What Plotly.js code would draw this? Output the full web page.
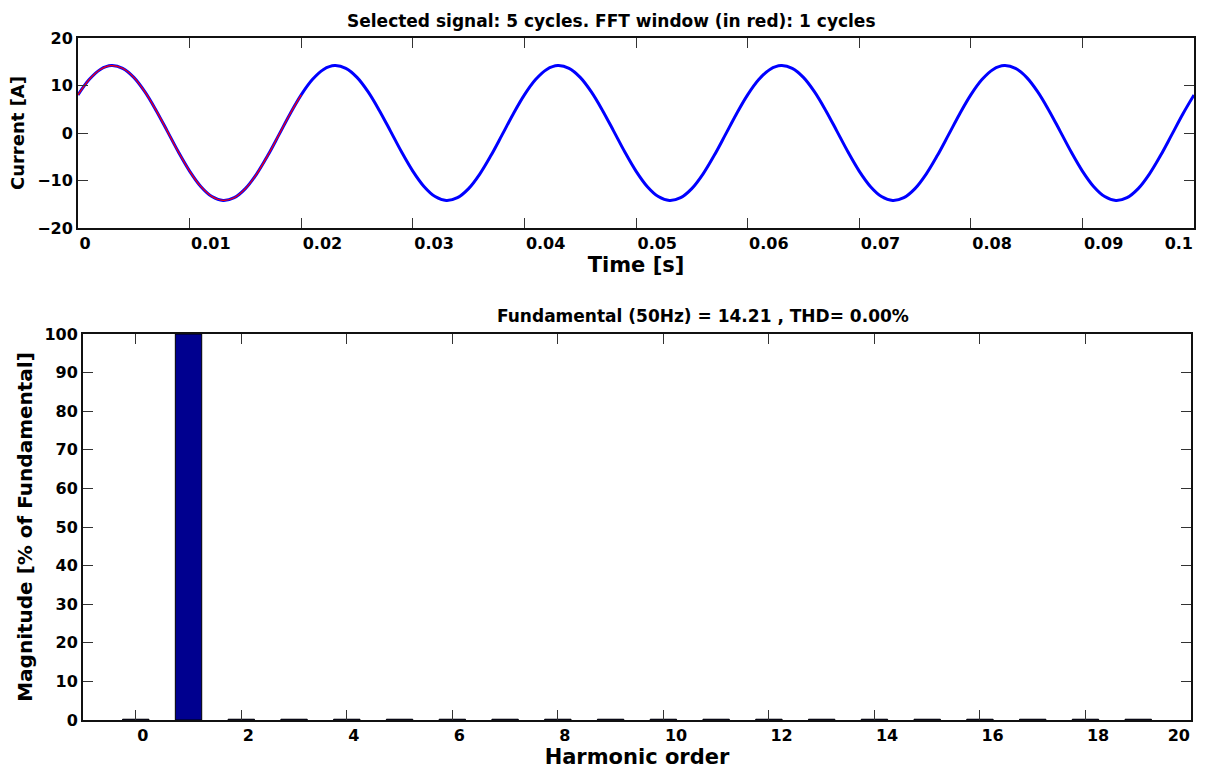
<!DOCTYPE html>
<html>
<head>
<meta charset="utf-8">
<script src="https://cdn.plot.ly/plotly-3.0.1.min.js"></script>
<style>
  html, body { margin: 0; padding: 0; background: #fff; }
  #chart { width: 1214px; height: 771px; }
</style>
</head>
<body>
<div id="chart"></div>
<script>
// ---- Data ----
const timeS = [
  0.000,0.001,0.002,0.003,0.004,0.005,0.006,0.007,0.008,0.009,
  0.010,0.011,0.012,0.013,0.014,0.015,0.016,0.017,0.018,0.019,
  0.020,0.021,0.022,0.023,0.024,0.025,0.026,0.027,0.028,0.029,
  0.030,0.031,0.032,0.033,0.034,0.035,0.036,0.037,0.038,0.039,
  0.040,0.041,0.042,0.043,0.044,0.045,0.046,0.047,0.048,0.049,
  0.050,0.051,0.052,0.053,0.054,0.055,0.056,0.057,0.058,0.059,
  0.060,0.061,0.062,0.063,0.064,0.065,0.066,0.067,0.068,0.069,
  0.070,0.071,0.072,0.073,0.074,0.075,0.076,0.077,0.078,0.079,
  0.080,0.081,0.082,0.083,0.084,0.085,0.086,0.087,0.088,0.089,
  0.090,0.091,0.092,0.093,0.094,0.095,0.096,0.097,0.098,0.099,
  0.100
];
const currentA = [
  8.02,11.25,13.38,14.19,13.62,11.72,8.66,4.76,0.40,-4.01,
  -8.02,-11.25,-13.38,-14.19,-13.62,-11.72,-8.66,-4.76,-0.40,4.01,
  8.02,11.25,13.38,14.19,13.62,11.72,8.66,4.76,0.40,-4.01,
  -8.02,-11.25,-13.38,-14.19,-13.62,-11.72,-8.66,-4.76,-0.40,4.01,
  8.02,11.25,13.38,14.19,13.62,11.72,8.66,4.76,0.40,-4.01,
  -8.02,-11.25,-13.38,-14.19,-13.62,-11.72,-8.66,-4.76,-0.40,4.01,
  8.02,11.25,13.38,14.19,13.62,11.72,8.66,4.76,0.40,-4.01,
  -8.02,-11.25,-13.38,-14.19,-13.62,-11.72,-8.66,-4.76,-0.40,4.01,
  8.02,11.25,13.38,14.19,13.62,11.72,8.66,4.76,0.40,-4.01,
  -8.02,-11.25,-13.38,-14.19,-13.62,-11.72,-8.66,-4.76,-0.40,4.01,
  8.02
];
const fftWindowSamples = 21; // first cycle (0 .. 0.02 s)

const harmonicOrder = [0,1,2,3,4,5,6,7,8,9,10,11,12,13,14,15,16,17,18,19];
const magnitudePct  = [0.2,100,0.2,0.2,0.2,0.2,0.2,0.2,0.2,0.2,0.2,0.2,0.2,0.2,0.2,0.2,0.2,0.2,0.2,0.2];

const timeTicks      = [0,0.01,0.02,0.03,0.04,0.05,0.06,0.07,0.08,0.09];
const timeTickText   = ['0','0.01','0.02','0.03','0.04','0.05','0.06','0.07','0.08','0.09'];
const timeLastTick   = [0.1];
const timeLastText   = ['0.1'];
const currentTicks   = [-20,-10,0,10,20];
const harmTicks      = [0,2,4,6,8,10,12,14,16,18];
const harmTickText   = ['0','2','4','6','8','10','12','14','16','18'];
const harmLastTick   = [20];
const harmLastText   = ['20'];
const magTicks       = [0,10,20,30,40,50,60,70,80,90,100];

const topTitle    = 'Selected signal: 5 cycles. FFT window (in red): 1 cycles';
const bottomTitle = 'Fundamental (50Hz) = 14.21 , THD= 0.00%';

// ---- Styling ----
const FONT = 'DejaVu Sans, Verdana, sans-serif';
const tickFont   = {family: FONT, size: 16, color: '#000', weight: 700};
const xTitleFont = {family: FONT, size: 21, color: '#000', weight: 700};
const yTitleTop  = {family: FONT, size: 18, color: '#000', weight: 700};
const yTitleBot  = {family: FONT, size: 20, color: '#000', weight: 700};
const headFont   = {family: FONT, size: 17, color: '#000', weight: 700};

const W = 1214, H = 771;
const mL = 78, mR = 20, mT = 38, mB = 51;
const pw = W - mL - mR, ph = H - mT - mB;
// pixel boxes of the two panels
const boxTop = {x0: 78, x1: 1194, y0: 38, y1: 228};
const boxBot = {x0: 83, x1: 1191, y0: 334, y1: 720};
const fx = p => (p - mL) / pw;
const fy = p => (H - mB - p) / ph;

const traces = [
  {
    type: 'scatter', mode: 'lines',
    x: timeS, y: currentA,
    line: {color: '#0000ff', width: 3, shape: 'spline'},
    xaxis: 'x', yaxis: 'y', hoverinfo: 'skip', showlegend: false
  },
  {
    type: 'scatter', mode: 'lines',
    x: timeS.slice(0, fftWindowSamples), y: currentA.slice(0, fftWindowSamples),
    line: {color: '#ff0000', width: 1.2, shape: 'spline'},
    xaxis: 'x', yaxis: 'y', hoverinfo: 'skip', showlegend: false
  },
  { type: 'scatter', x: [], y: [], xaxis: 'x3', yaxis: 'y', showlegend: false, hoverinfo: 'skip' },
  {
    type: 'bar',
    x: harmonicOrder, y: magnitudePct,
    width: 0.5,
    marker: {color: '#00008f', line: {color: '#000', width: 1}},
    xaxis: 'x2', yaxis: 'y2', hoverinfo: 'skip', showlegend: false
  },
  { type: 'scatter', x: [], y: [], xaxis: 'x4', yaxis: 'y2', showlegend: false, hoverinfo: 'skip' }
];

const axLine = {showline: true, linecolor: '#111', linewidth: 2, mirror: 'ticks',
                ticks: 'inside', ticklen: 10, tickwidth: 1, tickcolor: '#333',
                showgrid: false, zeroline: false, tickfont: tickFont};
const overlayAx = {side: 'bottom', ticks: '', showline: true, linecolor: 'rgba(0,0,0,0)', linewidth: 2,
                   showgrid: false, zeroline: false, tickfont: tickFont,
                   ticklabelposition: 'outside left'};

const layout = {
  width: W, height: H,
  margin: {l: mL, r: mR, t: mT, b: mB},
  paper_bgcolor: '#fff', plot_bgcolor: '#fff',
  showlegend: false,
  xaxis: Object.assign({}, axLine, {
    domain: [fx(boxTop.x0), fx(boxTop.x1)], anchor: 'y',
    range: [0, 0.1], tickvals: timeTicks, ticktext: timeTickText,
    ticklabelposition: 'outside right',
    title: {text: 'Time [s]', font: xTitleFont, standoff: 2}
  }),
  xaxis3: Object.assign({}, overlayAx, {
    overlaying: 'x', anchor: 'y',
    range: [0, 0.1], tickvals: timeLastTick, ticktext: timeLastText
  }),
  yaxis: Object.assign({}, axLine, {
    domain: [fy(boxTop.y1), fy(boxTop.y0)], anchor: 'x',
    range: [-20, 20], tickvals: currentTicks,
    title: {text: 'Current [A]', font: yTitleTop, standoff: 8}
  }),
  xaxis2: Object.assign({}, axLine, {
    domain: [fx(boxBot.x0), fx(boxBot.x1)], anchor: 'y2',
    range: [-1, 20], tickvals: harmTicks, ticktext: harmTickText,
    ticklabelposition: 'outside right',
    title: {text: 'Harmonic order', font: xTitleFont, standoff: 0}
  }),
  xaxis4: Object.assign({}, overlayAx, {
    overlaying: 'x2', anchor: 'y2',
    range: [-1, 20], tickvals: harmLastTick, ticktext: harmLastText
  }),
  yaxis2: Object.assign({}, axLine, {
    domain: [fy(boxBot.y1), fy(boxBot.y0)], anchor: 'x2',
    range: [0, 100], tickvals: magTicks,
    title: {text: 'Magnitude [% of Fundamental]', font: yTitleBot, standoff: 6}
  }),
  annotations: [
    {text: topTitle, xref: 'paper', yref: 'paper', x: fx(611), y: fy(21),
     xanchor: 'center', yanchor: 'middle', showarrow: false, font: headFont},
    {text: bottomTitle, xref: 'paper', yref: 'paper', x: fx(703), y: fy(316),
     xanchor: 'center', yanchor: 'middle', showarrow: false, font: headFont}
  ]
};

Plotly.newPlot('chart', traces, layout, {staticPlot: true, displayModeBar: false});
</script>
</body>
</html>
